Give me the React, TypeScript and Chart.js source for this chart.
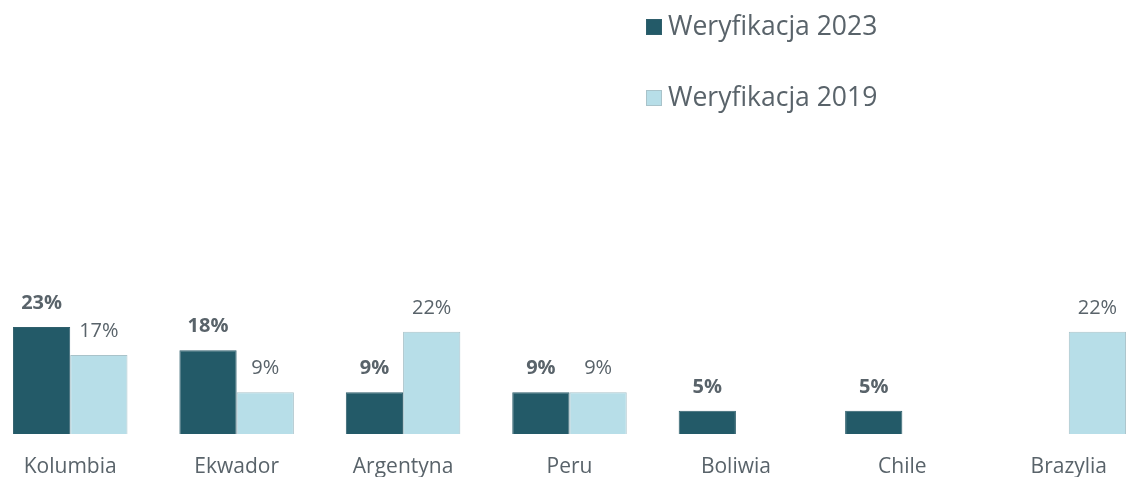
import React, { useEffect, useRef } from 'react';
import { Chart, registerables } from 'chart.js';

Chart.register(...registerables);

const categories = ['Kolumbia', 'Ekwador', 'Argentyna', 'Peru', 'Boliwia', 'Chile', 'Brazylia'];
const values2023: (number | null)[] = [23, 18, 9, 9, 5, 5, null];
const values2019: (number | null)[] = [17, 9, 22, 9, null, null, 22];
const seriesLabels = ['Weryfikacja 2023', 'Weryfikacja 2019'];

const DARK = '#235a68';
const LIGHT = '#b7dee8';
const TEXT = '#59636a';
const FONT = '"Open Sans", sans-serif';

const barLabelsPlugin = {
  id: 'barLabels',
  afterDatasetsDraw(chart: any) {
    const ctx = chart.ctx;
    chart.data.datasets.forEach((ds: any, di: number) => {
      const meta = chart.getDatasetMeta(di);
      meta.data.forEach((el: any, i: number) => {
        const v = ds.data[i];
        if (v == null) return;
        ctx.save();
        ctx.font = `${di === 0 ? 'bold ' : ''}20px ${FONT}`;
        ctx.fillStyle = TEXT;
        ctx.textAlign = 'center';
        ctx.textBaseline = 'alphabetic';
        ctx.fillText(`${v}%`, el.x, el.y - 18);
        ctx.restore();
      });
    });
  },
};

const sideLegendPlugin = {
  id: 'sideLegend',
  afterDraw(chart: any, _args: any, opts: any) {
    const ctx = chart.ctx;
    chart.data.datasets.forEach((ds: any, i: number) => {
      const y = opts.y + i * opts.rowGap;
      ctx.save();
      ctx.fillStyle = ds.backgroundColor;
      ctx.fillRect(opts.x, y - 16, 16, 16);
      ctx.strokeStyle = ds.borderColor;
      ctx.lineWidth = 1;
      ctx.strokeRect(opts.x + 0.5, y - 15.5, 15, 15);
      ctx.font = `26.5px ${FONT}`;
      ctx.fillStyle = TEXT;
      ctx.textAlign = 'left';
      ctx.textBaseline = 'alphabetic';
      ctx.fillText(ds.label, opts.x + 22, y);
      ctx.restore();
    });
  },
};

export default function App() {
  const ref = useRef<HTMLCanvasElement | null>(null);

  useEffect(() => {
    if (!ref.current) return;
    const chart = new Chart(ref.current, {
      type: 'bar',
      data: {
        labels: categories,
        datasets: [
          {
            label: seriesLabels[0],
            data: values2023,
            backgroundColor: DARK,
            borderColor: '#2f5f6c',
            borderWidth: 1,
            categoryPercentage: 0.688,
            barPercentage: 1,
          },
          {
            label: seriesLabels[1],
            data: values2019,
            backgroundColor: LIGHT,
            borderColor: '#a9c3ca',
            borderWidth: 1,
            categoryPercentage: 0.688,
            barPercentage: 1,
          },
        ],
      },
      options: {
        animation: false,
        responsive: true,
        maintainAspectRatio: false,
        layout: { padding: { top: 248, left: 0, right: 0, bottom: 0 } },
        plugins: {
          legend: { display: false },
          tooltip: { enabled: false },
          sideLegend: { x: 659, y: 35, rowGap: 71 },
        } as any,
        scales: {
          x: {
            offset: true,
            grid: { display: false, drawTicks: false },
            border: { display: false },
            ticks: {
              color: TEXT,
              font: { family: FONT, size: 21 },
              padding: 20,
            },
            afterFit: (scale: any) => {
              scale.height = 43;
            },
          },
          y: {
            display: false,
            min: 0,
            max: 40,
          },
        },
      },
      plugins: [barLabelsPlugin, sideLegendPlugin],
    });
    return () => chart.destroy();
  }, []);

  return (
    <div style={{ position: 'fixed', left: -13, top: 0, width: 1165, height: 477 }}>
      <canvas ref={ref} />
    </div>
  );
}
